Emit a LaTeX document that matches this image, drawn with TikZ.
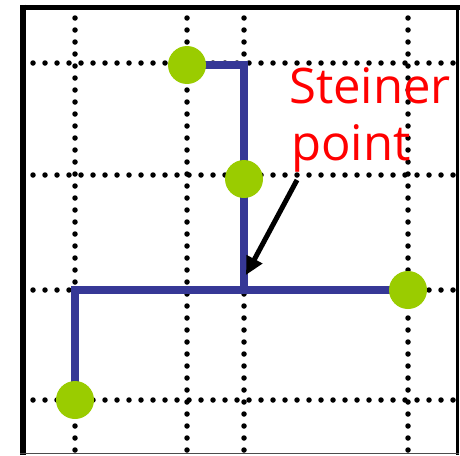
\documentclass[tikz,border=0pt]{standalone}
\usepackage{fontspec}
\newfontfamily\labelfont{Open Sans}
\usetikzlibrary{arrows.meta}
\definecolor{wireblue}{RGB}{54,56,150}
\definecolor{pingreen}{RGB}{154,204,0}
\definecolor{labelred}{RGB}{255,0,0}
\tikzset{
  gridline/.style={line width=5.5pt, line cap=round, dash pattern=on 0pt off 12pt},
  wire/.style={wireblue, line width=7.5pt, line join=miter},
  pin/.style={circle, fill=pingreen, minimum size=38pt, inner sep=0pt},
  lbl/.style={text=labelred, font=\labelfont\fontsize{49}{57}\selectfont, inner sep=0pt},
  pointer/.style={line width=5pt, -{Triangle[length=18pt,width=17pt]}}
}
\begin{document}
\begin{tikzpicture}[x=1pt,y=-1pt]
\useasboundingbox (0,0) rectangle (460,455);
\fill[white] (0,0) rectangle (460,455);
% grid
\foreach \yy in {63,175,290,400}{
  \draw[gridline] (33,\yy) -- (455,\yy);
}
\foreach \xx in {75,187,244,408}{
  \draw[gridline] (\xx,18) -- (\xx,450);
}
% frame
\draw[line width=6pt] (23,4.5) -- (23,455);
\draw[line width=5pt] (20,7.5) -- (459.5,7.5);
\draw[line width=3pt] (457.5,5) -- (457.5,455);
\draw[line width=1.5pt, black!70] (20,453.5) -- (459,453.5);
% pins and Steiner point
\coordinate (sp) at (244,290);
\coordinate (corner1) at (75,290);
\coordinate (corner2) at (244,65);
\coordinate (c1) at (187,65);
\coordinate (c2) at (244,179);
\coordinate (c3) at (408,290);
\coordinate (c4) at (75,400);
% wires
\draw[wire] (c4) -- (corner1) -- (c3);
\draw[wire] (sp) -- (corner2) -- (c1);
% pins on top
\node[pin] (p1) at (c1) {};
\node[pin] (p2) at (c2) {};
\node[pin] (p3) at (c3) {};
\node[pin] (p4) at (c4) {};
% label
\node[lbl, anchor=base west] (steiner) at (289,103) {Steiner};
\node[lbl, anchor=base west] (point) at (291,160) {point};
\coordinate (tail) at (297,180);
\coordinate (tip) at (246,275);
\draw[pointer] (tail) -- (tip);
\end{tikzpicture}
\end{document}
